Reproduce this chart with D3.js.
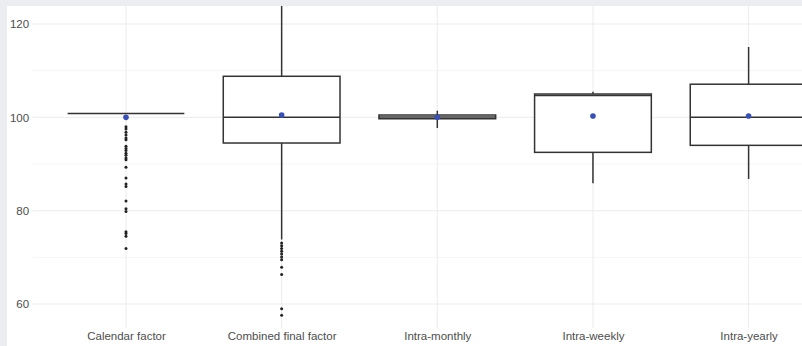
<!DOCTYPE html>
<html>
<head>
<meta charset="utf-8">
<script src="https://cdn.jsdelivr.net/npm/d3@7"></script>
<style>
  html, body { margin: 0; padding: 0; background: #ecedf0; }
  svg { display: block; }
  text { font-family: "Liberation Sans", Arial, sans-serif; }
</style>
</head>
<body>
<svg id="chart" width="802" height="346"></svg>
<script>
// Box-plot summaries per factor type
const categories = ["Calendar factor", "Combined final factor", "Intra-monthly", "Intra-weekly", "Intra-yearly"];
const whiskerLow  = [100.8, 73.8, 97.7, 85.9, 86.8];
const q1Values    = [100.8, 94.5, 99.7, 92.5, 94.0];
const medians     = [100.8, 100.0, 100.1, 104.7, 100.0];
const q3Values    = [100.8, 108.8, 100.5, 105.0, 107.1];
const whiskerHigh = [100.8, 128.0, 101.4, 105.5, 115.1];
const means       = [100.0, 100.5, 100.0, 100.3, 100.3];
const outliers = [
  [98.0, 97.5, 96.8, 96.2, 95.6, 95.2, 93.8, 93.3, 92.9, 92.3, 91.9, 91.3, 90.9,
   89.3, 87.0, 85.7, 85.2, 82.1, 80.4, 79.8, 75.5, 75.1, 74.5, 71.9],
  [73.1, 72.5, 71.9, 71.3, 70.7, 70.1, 69.5, 67.9, 66.3, 59.0, 57.6],
  [], [], []
];
const yTicks = [60, 80, 100, 120];
const yMinor = [70, 90, 110];

const svg = d3.select("#chart");
const panel = { left: 32.6, right: 842, top: 6, bottom: 328 };

// plot background
svg.append("rect").attr("x", 7).attr("y", 6).attr("width", 802).attr("height", 346).attr("fill", "#ffffff");

const x = d3.scalePoint().domain(categories).range([panel.left, panel.right]).padding(0.6);
const y = d3.scaleLinear().domain([54.86, 123.86]).range([panel.bottom, panel.top]);
const boxW = x.step() * 0.75;

svg.append("defs").append("clipPath").attr("id", "clip")
  .append("rect").attr("x", panel.left).attr("y", panel.top)
  .attr("width", panel.right - panel.left).attr("height", panel.bottom - panel.top);

const grid = svg.append("g");
grid.selectAll(".minor").data(yMinor).join("line")
  .attr("x1", panel.left).attr("x2", panel.right)
  .attr("y1", d => y(d)).attr("y2", d => y(d))
  .attr("stroke", "#f3f3f3").attr("stroke-width", 0.8);
grid.selectAll(".major").data(yTicks).join("line")
  .attr("x1", panel.left).attr("x2", panel.right)
  .attr("y1", d => y(d)).attr("y2", d => y(d))
  .attr("stroke", "#ececec").attr("stroke-width", 1);
grid.selectAll(".vert").data(categories).join("line")
  .attr("x1", d => x(d)).attr("x2", d => x(d))
  .attr("y1", panel.top).attr("y2", panel.bottom)
  .attr("stroke", "#ececec").attr("stroke-width", 1);

// y axis labels
const yAxis = d3.axisLeft(y).tickValues(yTicks).tickSize(0).tickPadding(3);
svg.append("g").attr("transform", `translate(${panel.left - 0.5},0)`).call(yAxis)
  .call(g => g.select(".domain").remove())
  .call(g => g.selectAll("text").attr("fill", "#4d4d4d").attr("font-size", 11.5)
    .style("font-family", "Liberation Sans, Arial, sans-serif"));

// x axis labels
const xAxis = d3.axisBottom(x).tickSize(0).tickPadding(4);
svg.append("g").attr("transform", `translate(0,${panel.bottom})`).call(xAxis)
  .call(g => g.select(".domain").remove())
  .call(g => g.selectAll("text").attr("fill", "#4d4d4d").attr("font-size", 11.5)
    .style("font-family", "Liberation Sans, Arial, sans-serif"));

const plot = svg.append("g").attr("clip-path", "url(#clip)");
const stroke = "#333333";
const sw = 1.5;

categories.forEach((c, i) => {
  const cx = x(c);
  const g = plot.append("g");
  // whiskers
  g.append("line").attr("x1", cx).attr("x2", cx)
    .attr("y1", y(q3Values[i])).attr("y2", y(whiskerHigh[i]))
    .attr("stroke", stroke).attr("stroke-width", sw);
  g.append("line").attr("x1", cx).attr("x2", cx)
    .attr("y1", y(q1Values[i])).attr("y2", y(whiskerLow[i]))
    .attr("stroke", stroke).attr("stroke-width", sw);
  // box
  g.append("rect").attr("x", cx - boxW / 2).attr("width", boxW)
    .attr("y", y(q3Values[i])).attr("height", Math.max(0, y(q1Values[i]) - y(q3Values[i])))
    .attr("fill", "#ffffff").attr("stroke", stroke).attr("stroke-width", sw);
  // median
  g.append("line").attr("x1", cx - boxW / 2).attr("x2", cx + boxW / 2)
    .attr("y1", y(medians[i])).attr("y2", y(medians[i]))
    .attr("stroke", stroke).attr("stroke-width", sw);
  // outliers
  g.selectAll(".out").data(outliers[i]).join("circle")
    .attr("cx", cx).attr("cy", d => y(d)).attr("r", 1.5).attr("fill", "#222222");
  // mean marker
  g.append("circle").attr("cx", cx).attr("cy", y(means[i])).attr("r", 2.8).attr("fill", "#3950b0");
});
</script>
</body>
</html>
